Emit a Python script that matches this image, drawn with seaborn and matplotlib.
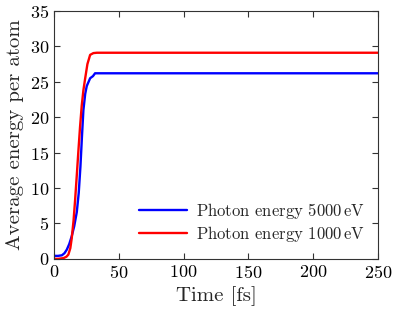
import numpy as np
import pandas as pd
import matplotlib
matplotlib.use("Agg")
import matplotlib.pyplot as plt
import seaborn as sns

# ─────────────────────────────────────────
# DATA
# ─────────────────────────────────────────
time_5000 = [0, 3, 6, 8, 9.8, 11.7, 13.6, 15.5, 17.5, 19, 20.3, 21.5, 22.6, 24, 25.2, 27.8, 30, 31.6, 35, 100, 250]
energy_5000 = [0.42, 0.42, 0.5, 0.8, 1.3, 2.1, 3.2, 4.6, 6.6, 9.3, 13.0, 17.3, 21.0, 23.3, 24.4, 25.5, 25.8, 26.2, 26.2, 26.2, 26.2]

time_1000 = [0, 3, 7.2, 9.5, 11, 12.5, 13.6, 15, 16.2, 17.5, 18.8, 20, 21.3, 22.6, 23.9, 25.7, 27.8, 30.3, 33, 100, 250]
energy_1000 = [0.0, 0.0, 0.1, 0.3, 0.6, 1.5, 2.9, 5.4, 8.3, 11.8, 15.4, 18.6, 21.6, 23.8, 25.4, 27.5, 28.8, 29.05, 29.1, 29.1, 29.1]

label_5000 = r"Photon energy 5000$\,$eV"
label_1000 = r"Photon energy 1000$\,$eV"

x_ticks = [0, 50, 100, 150, 200, 250]
y_ticks = [0, 5, 10, 15, 20, 25, 30, 35]

# ─────────────────────────────────────────
# STYLE
# ─────────────────────────────────────────
sns.set_style("ticks")
plt.rcParams["font.family"] = ["cmr10", "DejaVu Serif"]
plt.rcParams["mathtext.fontset"] = "cm"
plt.rcParams["axes.formatter.use_mathtext"] = True

df = pd.concat([
    pd.DataFrame({"t": time_5000, "E": energy_5000, "series": label_5000}),
    pd.DataFrame({"t": time_1000, "E": energy_1000, "series": label_1000}),
])

fig, ax = plt.subplots(figsize=(3.95, 3.13), dpi=100)

sns.lineplot(
    data=df, x="t", y="E", hue="series",
    palette={label_5000: "#0000ff", label_1000: "#ff0000"},
    linewidth=1.7, ax=ax, sort=False
)

ax.set_xlim(0, 250)
ax.set_ylim(0, 35)
ax.set_xticks(x_ticks)
ax.set_yticks(y_ticks)
ax.tick_params(direction="in", top=True, right=True, labelsize=13,
               length=4, width=0.8, colors="#333333", labelcolor="black")
for s in ax.spines.values():
    s.set_color("#333333")
    s.set_linewidth(0.8)

ax.set_xlabel("Time [fs]", fontsize=15)
ax.set_ylabel("Average energy per atom", fontsize=15)

leg = ax.legend(loc="lower right", bbox_to_anchor=(0.99, 0.02), frameon=False,
                fontsize=12, handlelength=2.9, handletextpad=0.5,
                labelspacing=0.2, borderaxespad=0.2)
for line in leg.get_lines():
    line.set_linewidth(1.7)

fig.subplots_adjust(left=0.137, right=0.957, top=0.965, bottom=0.173)
fig.savefig("out.png", dpi=100)
